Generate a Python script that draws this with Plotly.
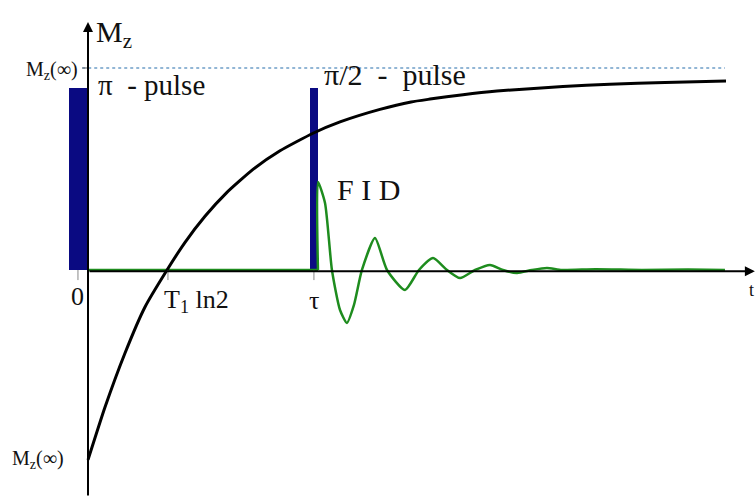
import plotly.graph_objects as go

# Inversion recovery: longitudinal magnetisation (units of Mz(inf)) vs time (units of T1)
recovery_t = [0.0, 0.147, 0.321, 0.494, 0.685, 0.841, 1.014, 1.20, 1.430, 1.664, 1.950,
              2.184, 2.530, 2.800, 2.964, 3.250, 3.544, 4.116, 4.523, 5.000, 5.529]
recovery_mz = [-0.94, -0.680, -0.411, -0.183, 0.0, 0.137, 0.266, 0.382, 0.498, 0.590, 0.677,
               0.733, 0.795, 0.832, 0.846, 0.868, 0.886, 0.908, 0.920, 0.928, 0.935]

# Baseline before the pi/2 pulse
base_t = [0.0, 1.993]
base_s = [0.0, 0.0]

# Free induction decay after the pi/2 pulse
fid_t = [1.993, 1.993, 2.054, 2.114, 2.184, 2.244, 2.305, 2.374, 2.487, 2.591,
         2.747, 2.868, 2.990, 3.111, 3.224, 3.354, 3.484, 3.596, 3.718, 3.847,
         3.977, 4.107, 4.40, 4.80, 5.20, 5.520]
fid_s = [0.0, 0.436, 0.332, 0.0, -0.198, -0.262, -0.173, 0.0, 0.158, 0.0,
         -0.099, 0.0, 0.059, 0.0, -0.040, 0.0, 0.025, 0.0, -0.015, 0.0,
         0.010, 0.0, 0.004, 0.0, 0.002, 0.0]

# RF pulses: centre time, width, height
pulse_t = [-0.087, 1.958]
pulse_w = [0.156, 0.069]
pulse_h = [0.90, 0.90]

# Time axis marks
tick_t = [-0.087, 0.693, 1.958]
tick_text = ["0", "T<sub>1</sub> ln2", "τ"]
tick_anchor = ["center", "left", "center"]
tick_shift = [0, -6, 0]
tick_label_y = [-0.13, -0.155, -0.15]

mz_inf = 1.0
mz_start = -0.94
t_end = 5.52

XR = [-0.7626, 5.789]
YR = [-1.1238, 1.3366]
SERIF = "'Liberation Serif', 'Times New Roman', serif"

fig = go.Figure()

fig.add_trace(go.Bar(x=pulse_t, y=pulse_h, width=pulse_w, base=0,
                     marker=dict(color="#0a0a82", line=dict(width=0)),
                     hoverinfo="skip"))

# saturation level
fig.add_trace(go.Scatter(x=[-0.05, t_end], y=[mz_inf, mz_inf], mode="lines",
                         line=dict(color="#6f9fc8", width=1.5, dash="dot"),
                         hoverinfo="skip"))

fig.add_trace(go.Scatter(x=base_t, y=base_s, mode="lines",
                         line=dict(color="#1e8c1e", width=2.5), hoverinfo="skip"))
fig.add_trace(go.Scatter(x=fid_t, y=fid_s, mode="lines",
                         line=dict(color="#1e8c1e", width=2.5, shape="spline", smoothing=0.6),
                         hoverinfo="skip"))

fig.add_trace(go.Scatter(x=recovery_t, y=recovery_mz, mode="lines",
                         line=dict(color="black", width=3, shape="spline", smoothing=0.5),
                         hoverinfo="skip"))

# tick marks under the time axis
for t in tick_t:
    fig.add_shape(type="line", x0=t, x1=t, y0=0, y1=-0.05,
                  line=dict(color="#888888", width=1))

annotations = []
# axes with arrow heads
annotations.append(dict(x=XR[1] - 0.01, y=-0.006, ax=0, ay=-0.006, axref="x", ayref="y",
                        xref="x", yref="y", text="", showarrow=True, arrowhead=2,
                        arrowsize=1, arrowwidth=2, arrowcolor="black"))
annotations.append(dict(x=0, y=1.228, ax=0, ay=YR[0], axref="x", ayref="y",
                        xref="x", yref="y", text="", showarrow=True, arrowhead=2,
                        arrowsize=1, arrowwidth=2, arrowcolor="black"))

for t, txt, anc, sh, ty in zip(tick_t, tick_text, tick_anchor, tick_shift, tick_label_y):
    annotations.append(dict(x=t, y=ty, xref="x", yref="y", text=txt, showarrow=False,
                            xanchor=anc, xshift=sh, font=dict(family=SERIF, size=26, color="#111")))

labels = [
    (0.055, 1.17, "M<sub>z</sub>", "left", 30),
    (-0.07, mz_inf - 0.01, "M<sub>z</sub>(∞)", "right", 20),
    (-0.19, mz_start, "M<sub>z</sub>(∞)", "right", 20),
    (0.07, 0.915, "π\u00a0\u00a0-\u00a0pulse", "left", 29),
    (2.03, 0.97, "π/2\u00a0\u00a0-\u00a0\u00a0pulse", "left", 30),
    (2.14, 0.40, "F\u00a0I\u00a0D", "left", 30),
    (XR[1], -0.1, "t", "right", 18),
]
for x, y, txt, anc, size in labels:
    annotations.append(dict(x=x, y=y, xref="x", yref="y", text=txt, showarrow=False,
                            xanchor=anc, font=dict(family=SERIF, size=size, color="#111")))

# short tick beside the upper Mz(inf) label
fig.add_shape(type="line", x0=-0.05, x1=0, y0=mz_inf, y1=mz_inf,
              line=dict(color="#666666", width=1))

fig.update_layout(
    width=756, height=497, autosize=False,
    margin=dict(l=0, r=0, t=0, b=0),
    paper_bgcolor="white", plot_bgcolor="white",
    showlegend=False, bargap=0,
    font=dict(family=SERIF),
    xaxis=dict(range=XR, visible=False, fixedrange=True),
    yaxis=dict(range=YR, visible=False, fixedrange=True),
    annotations=annotations,
)

fig.write_html("out.html")
